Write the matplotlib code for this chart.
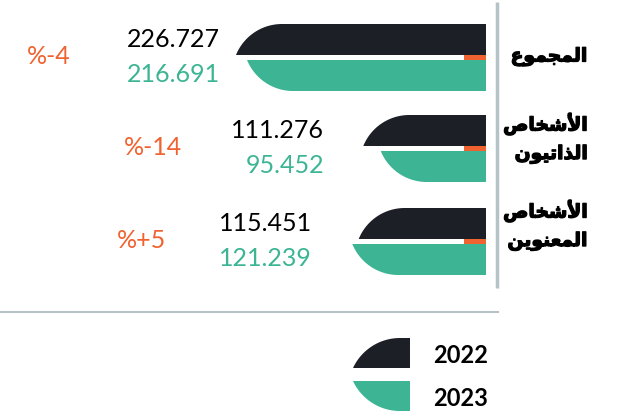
import numpy as np
import matplotlib.pyplot as plt
import matplotlib.patheffects as pe
from matplotlib.patches import Polygon, Rectangle

C_2022 = "#1c1f26"
C_2023 = "#3db594"
C_CHG = "#f0622f"
C_RULE = "#b6c3c6"

# categories in visual glyph order (pre-shaped Arabic presentation forms)
categories = [
    "\ufec9\ufeee\ufee4\ufea0\ufee4\ufedf\ufe8d",                       # المجموع
    "\ufeb9\ufe8e\ufea8\ufeb7\ufef7\ufe8d\n"
    "\ufee5\ufeee\ufef4\ufe97\ufe8d\ufeac\ufedf\ufe8d",                 # الأشخاص الذاتيون
    "\ufeb9\ufe8e\ufea8\ufeb7\ufef7\ufe8d\n"
    "\ufee6\ufef3\ufeee\ufee8\ufecc\ufee4\ufedf\ufe8d",                 # الأشخاص المعنوين
]
values_2022 = [226.727, 111.276, 115.451]
values_2023 = [216.691, 95.452, 121.239]
change_labels = ["%-4", "%-14", "%+5"]
years = ["2022", "2023"]

W, H = 632, 415
PX = 1.1027          # pixels per unit
X0 = 486             # pixel of the zero line
CURVE = 46           # length of the curved end (px)
BH = 31              # bar height (px)
centers = [57.5, 148.5, 241.5]
label_gap = [16, 39, 40]
cat_y = [57, 138, 225]


def blade(dx, h):
    """Curved end as offsets from the tip: circular arc with a sharp tip."""
    rad = (dx ** 2 + h ** 2) / (2 * h)
    tmax = np.arccos((rad - h) / rad)
    t = np.linspace(0, tmax, 40)
    return dx - rad * np.sin(t), rad - rad * np.cos(t)


def bar(ax, v, y_flat, y_tip, color):
    # y_flat: edge that runs full length, y_tip: edge that ends in the point
    sgn = 1 if y_tip > y_flat else -1
    xo, yo = blade(CURVE, abs(y_tip - y_flat))
    pts = [(0, y_flat)] + list(zip(v - xo / PX, y_flat + sgn * yo)) + [(0, y_tip)]
    ax.add_patch(Polygon(pts, closed=True, color=color, lw=0))


fig = plt.figure(figsize=(W / 100, H / 100), dpi=100)
ax = fig.add_axes([0, 0, 1, 1])
ax.set_xlim(X0 / PX, (X0 - W) / PX)
ax.set_ylim(H, 0)
ax.axis("off")

ov = fig.add_axes([0, 0, 1, 1], facecolor="none")
ov.set_xlim(0, W)
ov.set_ylim(H, 0)
ov.axis("off")

num_font = dict(family="Lato", fontsize=18)
bold_fx = [pe.withStroke(linewidth=0.9, foreground="black")]

for i, c in enumerate(centers):
    v1, v2 = values_2022[i], values_2023[i]
    ax.add_patch(Rectangle((0, c - 2.5), 20, 5, color=C_CHG, lw=0))
    bar(ax, v1, c - 2.5 - BH, c - 2.5, C_2022)
    bar(ax, v2, c + 2.5 + BH, c + 2.5, C_2023)

    tip = X0 - max(v1, v2) * PX
    lx = tip - label_gap[i]
    ov.text(lx, c - 18, f"{v1:.3f}", ha="right", va="center",
            color="black", **num_font)
    ov.text(lx, c + 17, f"{v2:.3f}", ha="right", va="center",
            color=C_2023, **num_font)
    ov.text(lx - 171, c - 1, change_labels[i], ha="center", va="center",
            color=C_CHG, **num_font)

    ov.text(588, cat_y[i], categories[i], ha="right", va="center",
            family="DejaVu Sans", fontweight="bold", fontsize=13.5,
            multialignment="right", linespacing=1.6, path_effects=bold_fx)

# rules
ov.plot([497, 497], [2, 288], color=C_RULE, lw=2.5, solid_capstyle="butt")
ov.plot([0, 498], [312, 312], color=C_RULE, lw=1.5)

# legend swatches (pixel space)
for y_flat, y_tip, color, yr in [(338, 368, C_2022, years[0]),
                                 (411, 381, C_2023, years[1])]:
    sgn = 1 if y_tip > y_flat else -1
    xo, yo = blade(47, abs(y_tip - y_flat))
    pts = [(410, y_flat)] + list(zip(353 + xo, y_flat + sgn * yo)) + [(410, y_tip)]
    ov.add_patch(Polygon(pts, closed=True, color=color, lw=0))
    ov.text(433, (y_flat + y_tip) / 2 + 2, yr, ha="left", va="center",
            family="Lato", fontweight="bold", fontsize=17, color="black")

fig.savefig("out.png", dpi=100)
